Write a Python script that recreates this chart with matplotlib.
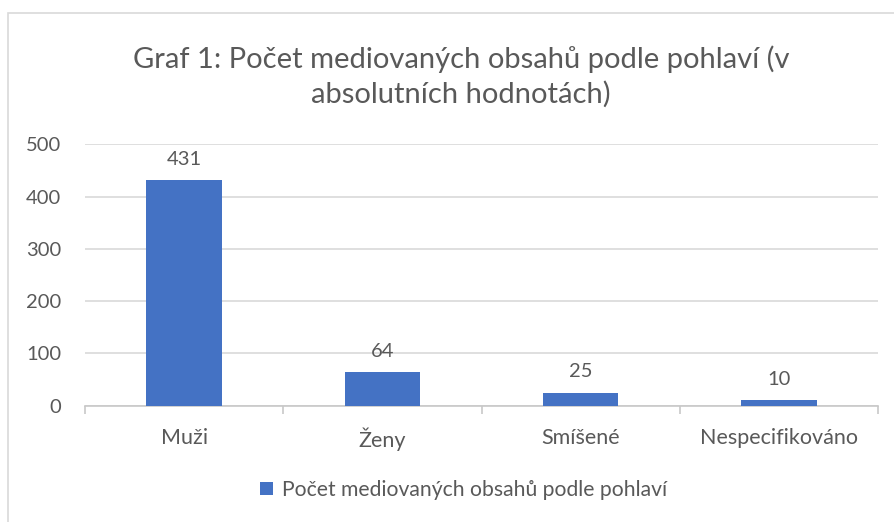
import matplotlib.pyplot as plt
from matplotlib.patches import Rectangle

# data
categories = ['Muži', 'Ženy', 'Smíšené', 'Nespecifikováno']
values = [431, 64, 25, 10]
series_name = 'Počet mediovaných obsahů podle pohlaví'
title = 'Graf 1: Počet mediovaných obsahů podle pohlaví (v\nabsolutních hodnotách)'
yticks = [0, 100, 200, 300, 400, 500]

plt.rcParams['font.family'] = ['Lato', 'DejaVu Sans']
text_color = '#595959'
bar_color = '#4472C4'
grid_color = '#D9D9D9'

fig = plt.figure(figsize=(8.95, 5.22), dpi=100)
ax = fig.add_axes([0.095, 0.2228, 0.886, 0.5008])

# chart border (continues past right/bottom edge like the screenshot)
fig.patches.append(Rectangle((8 / 895, -0.1), 1.2, 1 - 13 / 522 + 0.1,
                             transform=fig.transFigure, fill=False,
                             edgecolor=grid_color, linewidth=1.2))

x = range(len(categories))
bars = ax.bar(x, values, width=0.38, color=bar_color, label=series_name, zorder=3)
ax.bar_label(bars, padding=9, fontsize=14.5, color=text_color)

ax.set_xlim(-0.5, len(categories) - 0.5)
ax.set_ylim(0, 500)
ax.set_yticks(yticks)
ax.set_xticks(list(x))
ax.set_xticklabels(categories)
ax.set_xticks([i - 0.5 for i in range(len(categories) + 1)], minor=True)

ax.grid(axis='y', color=grid_color, linewidth=1.2, zorder=0)
for s in ['top', 'right', 'left']:
    ax.spines[s].set_visible(False)
ax.spines['bottom'].set_color('#C8C8C8')
ax.spines['bottom'].set_linewidth(1.2)

ax.tick_params(axis='y', length=0, pad=17, labelsize=14.5, labelcolor=text_color)
ax.tick_params(axis='x', which='major', length=0, pad=16, labelsize=15.5, labelcolor=text_color)
ax.tick_params(axis='x', which='minor', length=6, width=1.2, color='#C8C8C8')

fig.text(0.515, 0.853, title, ha='center', va='center', fontsize=21,
         color=text_color, linespacing=1.38)

ax.legend(loc='center', bbox_to_anchor=(0.518, 1 - 490 / 522), bbox_transform=fig.transFigure,
          frameon=False, fontsize=15.2, labelcolor=text_color,
          handlelength=0.6, handleheight=0.6, handletextpad=0.45)

fig.savefig('out.png', dpi=100)
